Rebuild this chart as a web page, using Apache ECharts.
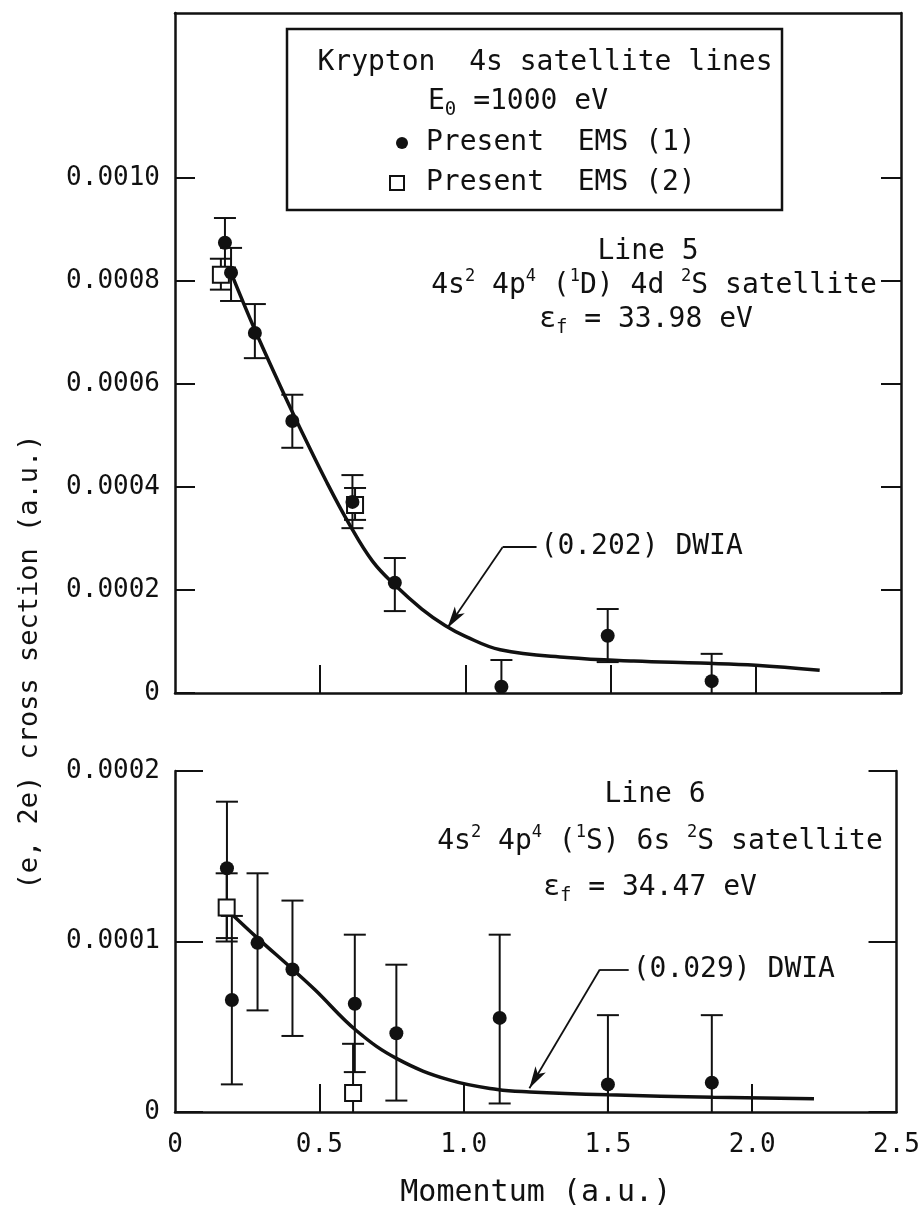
<!DOCTYPE html>
<html>
<head>
<meta charset="utf-8">
<script src="https://cdn.jsdelivr.net/npm/echarts@6/dist/echarts.min.js"></script>
<style>
  html, body { margin: 0; padding: 0; background: #fff; }
  #main { width: 923px; height: 1209px; }
</style>
</head>
<body>
<div id="main"></div>
<script>
// ---- data ----
// Line 5 (upper panel)
var line5Ems1 = [[0.172, 0.000874], [0.193, 0.000816], [0.275, 0.000699], [0.404, 0.000528], [0.611, 0.000371], [0.757, 0.000214], [1.124, 0.000012], [1.490, 0.000111], [1.848, 0.000023]];
var line5Ems1Err = [[0.172, 0.000826, 0.000922], [0.193, 0.000761, 0.000864], [0.275, 0.000650, 0.000755], [0.404, 0.000476, 0.000579], [0.611, 0.000320, 0.000423], [0.757, 0.000159, 0.000262], [1.124, 0, 0.000064], [1.490, 0.000060, 0.000163], [1.848, 0, 0.000076]];
var line5Ems2 = [[0.158, 0.000812], [0.620, 0.000365]];
var line5Ems2Err = [[0.158, 0.000783, 0.000843], [0.620, 0.000336, 0.000398]];
var line5DwiaX = [0.19, 0.275, 0.36, 0.43, 0.52, 0.60, 0.68, 0.76, 0.85, 0.93, 1.00, 1.12, 1.35, 1.58, 1.81, 2.00, 2.22];
var line5DwiaY = [0.00082, 0.000705, 0.000599, 0.000515, 0.000412, 0.000328, 0.000256, 0.000208, 0.000163, 0.000131, 0.00011, 0.000084, 0.000069, 0.000062, 0.000058, 0.000054, 0.000044];

// Line 6 (lower panel)
var line6Ems1 = [[0.180, 0.000143], [0.197, 0.0000657], [0.286, 0.0000992], [0.407, 0.0000836], [0.623, 0.0000635], [0.767, 0.0000462], [1.125, 0.0000552], [1.500, 0.0000162], [1.860, 0.0000172]];
var line6Ems1Err = [[0.180, 0.000102, 0.000182], [0.197, 0.0000162, 0.000115], [0.286, 0.0000596, 0.00014], [0.407, 0.0000446, 0.000124], [0.623, 0.0000234, 0.000104], [0.767, 0.0000067, 0.0000864], [1.125, 0.000005, 0.000104], [1.500, 0, 0.0000568], [1.860, 0, 0.0000568]];
var line6Ems2 = [[0.179, 0.00012], [0.617, 0.0000111]];
var line6Ems2Err = [[0.179, 0.0001, 0.00014], [0.617, 0, 0.00004]];
var line6DwiaX = [0.197, 0.286, 0.407, 0.485, 0.628, 0.772, 0.95, 1.117, 1.23, 1.50, 1.865, 2.214];
var line6DwiaY = [0.000116, 0.000102, 0.0000838, 0.0000717, 0.0000478, 0.000031, 0.0000188, 0.0000132, 0.0000118, 0.0000101, 0.0000086, 0.0000078];

// ticks
var xTicks = [0, 0.5, 1.0, 1.5, 2.0, 2.5];
var xInnerTicks = [0.5, 1.0, 1.5, 2.0];
var y5Ticks = [0, 0.0002, 0.0004, 0.0006, 0.0008, 0.0010];
var y6Ticks = [0, 0.0001, 0.0002];

// DWIA pointer lines (data coords: label end, corner, arrow tip)
var line5Arrow = [[1.245, 0.000283], [1.128, 0.000283], [0.938, 0.000126]];
var line6Arrow = [[1.572, 0.0000836], [1.472, 0.0000836], [1.228, 0.0000139]];

var FONT = 'DejaVu Sans Mono';
var BLACK = '#111';

function zip(xs, ys) {
  return xs.map(function (x, i) { return [x, ys[i]]; });
}

function errorBars(params, api) {
  var x = api.value(0), lo = api.value(1), hi = api.value(2);
  var top = api.coord([x, hi]);
  var bot = api.coord([x, Math.max(lo, 0)]);
  var half = 11;
  var st = { stroke: BLACK, lineWidth: 2 };
  var kids = [
    { type: 'line', shape: { x1: top[0], y1: top[1], x2: bot[0], y2: bot[1] }, style: st },
    { type: 'line', shape: { x1: top[0] - half, y1: top[1], x2: top[0] + half, y2: top[1] }, style: st }
  ];
  if (lo > 0) {
    kids.push({ type: 'line', shape: { x1: bot[0] - half, y1: bot[1], x2: bot[0] + half, y2: bot[1] }, style: st });
  }
  return { type: 'group', children: kids };
}

function arrowLines(pts) {
  return [
    [{ coord: pts[0], symbol: 'none' }, { coord: pts[1], symbol: 'none' }],
    [{ coord: pts[1], symbol: 'none' }, { coord: pts[2], symbol: 'arrow', symbolSize: [9, 22] }]
  ];
}

var axLine = { show: true, onZero: false, lineStyle: { color: BLACK, width: 2.5 } };
var tickStyle = { color: BLACK, width: 2 };
var lblStyle = { color: BLACK, fontSize: 26, fontFamily: FONT };

function yFmt(v) { return v === 0 ? '0' : v.toFixed(4); }
function xFmt(v) { return v === 0 ? '0' : v.toFixed(1); }

var myChart = echarts.init(document.getElementById('main'));
var option = {
  backgroundColor: '#fff',
  animation: false,
  grid: [
    { left: 175, top: 13, width: 726, height: 680 },
    { left: 175, top: 771, width: 726, height: 359 }
  ],
  xAxis: [
    { gridIndex: 0, type: 'value', min: 0, max: 2.5, interval: 0.5, position: 'bottom',
      axisLine: axLine, splitLine: { show: false }, axisLabel: { show: false },
      axisTick: { inside: true, length: 28, lineStyle: tickStyle, customValues: xInnerTicks } },
    { gridIndex: 0, type: 'value', min: 0, max: 2.5, position: 'top',
      axisLine: axLine, splitLine: { show: false }, axisLabel: { show: false }, axisTick: { show: false } },
    { gridIndex: 1, type: 'value', min: 0, max: 2.5, interval: 0.5, position: 'bottom',
      axisLine: axLine, splitLine: { show: false },
      axisTick: { inside: true, length: 28, lineStyle: tickStyle, customValues: xInnerTicks },
      axisLabel: Object.assign({ margin: 20, formatter: xFmt, customValues: xTicks }, lblStyle),
      name: 'Momentum (a.u.)', nameLocation: 'middle', nameGap: 66,
      nameTextStyle: { color: BLACK, fontSize: 30, fontFamily: FONT } }
  ],
  yAxis: [
    { gridIndex: 0, type: 'value', min: 0, max: 0.00132, interval: 0.0002, position: 'left',
      axisLine: axLine, splitLine: { show: false },
      axisTick: { inside: true, length: 20, lineStyle: tickStyle, customValues: y5Ticks },
      axisLabel: Object.assign({ margin: 15, formatter: yFmt, customValues: y5Ticks }, lblStyle) },
    { gridIndex: 0, type: 'value', min: 0, max: 0.00132, interval: 0.0002, position: 'right',
      axisLine: axLine, splitLine: { show: false }, axisLabel: { show: false },
      axisTick: { inside: true, length: 20, lineStyle: tickStyle, customValues: y5Ticks } },
    { gridIndex: 1, type: 'value', min: 0, max: 0.0002, interval: 0.0001, position: 'left',
      axisLine: axLine, splitLine: { show: false },
      axisTick: { inside: true, length: 28, lineStyle: tickStyle, customValues: y6Ticks },
      axisLabel: Object.assign({ margin: 15, formatter: yFmt, customValues: y6Ticks }, lblStyle) },
    { gridIndex: 1, type: 'value', min: 0, max: 0.0002, interval: 0.0001, position: 'right',
      axisLine: axLine, splitLine: { show: false }, axisLabel: { show: false },
      axisTick: { inside: true, length: 28, lineStyle: tickStyle, customValues: y6Ticks } }
  ],
  series: [
    { name: '(0.202) DWIA', type: 'line', xAxisIndex: 0, yAxisIndex: 0,
      data: zip(line5DwiaX, line5DwiaY), showSymbol: false, smooth: 0.4, z: 3,
      lineStyle: { color: BLACK, width: 3.5 },
      markLine: { silent: true, label: { show: false }, lineStyle: { color: BLACK, width: 1.8, type: 'solid' },
        itemStyle: { color: BLACK }, data: arrowLines(line5Arrow) } },
    { type: 'custom', xAxisIndex: 0, yAxisIndex: 0, renderItem: errorBars, encode: { x: 0, y: [1, 2] }, data: line5Ems1Err, z: 2 },
    { type: 'custom', xAxisIndex: 0, yAxisIndex: 0, renderItem: errorBars, encode: { x: 0, y: [1, 2] }, data: line5Ems2Err, z: 2 },
    { name: 'Present EMS (2)', type: 'scatter', xAxisIndex: 0, yAxisIndex: 0, data: line5Ems2,
      symbol: 'rect', symbolSize: 16, z: 4, itemStyle: { color: '#fff', borderColor: BLACK, borderWidth: 2, opacity: 1 } },
    { name: 'Present EMS (1)', type: 'scatter', xAxisIndex: 0, yAxisIndex: 0, data: line5Ems1,
      symbol: 'circle', symbolSize: 14, z: 5, itemStyle: { color: BLACK, opacity: 1 } },

    { name: '(0.029) DWIA', type: 'line', xAxisIndex: 2, yAxisIndex: 2,
      data: zip(line6DwiaX, line6DwiaY), showSymbol: false, smooth: 0.4, z: 3,
      lineStyle: { color: BLACK, width: 3.5 },
      markLine: { silent: true, label: { show: false }, lineStyle: { color: BLACK, width: 1.8, type: 'solid' },
        itemStyle: { color: BLACK }, data: arrowLines(line6Arrow) } },
    { type: 'custom', xAxisIndex: 2, yAxisIndex: 2, renderItem: errorBars, encode: { x: 0, y: [1, 2] }, data: line6Ems1Err, z: 2 },
    { type: 'custom', xAxisIndex: 2, yAxisIndex: 2, renderItem: errorBars, encode: { x: 0, y: [1, 2] }, data: line6Ems2Err, z: 2 },
    { name: 'Present EMS (2)', type: 'scatter', xAxisIndex: 2, yAxisIndex: 2, data: line6Ems2,
      symbol: 'rect', symbolSize: 16, z: 4, itemStyle: { color: '#fff', borderColor: BLACK, borderWidth: 2, opacity: 1 } },
    { name: 'Present EMS (1)', type: 'scatter', xAxisIndex: 2, yAxisIndex: 2, data: line6Ems1,
      symbol: 'circle', symbolSize: 14, z: 5, itemStyle: { color: BLACK, opacity: 1 } }
  ]
};
myChart.setOption(option);

// text annotations and the boxed key
var rich = {
  n: { fontSize: 28, fontFamily: FONT, color: BLACK, lineHeight: 36 },
  sup: { fontSize: 17, fontFamily: FONT, color: BLACK, lineHeight: 17, verticalAlign: 'top' },
  sub: { fontSize: 19, fontFamily: FONT, color: BLACK, lineHeight: 17, verticalAlign: 'bottom' }
};
function txt(x, y, text, align, extra, size) {
  var style = { text: text, x: x, y: y, align: align || 'center', verticalAlign: 'middle',
    fontSize: size || 28, fontFamily: FONT, fill: BLACK, rich: rich };
  return Object.assign({ type: 'text', style: style, z: 10 }, extra || {});
}
var p5 = myChart.convertToPixel({ gridIndex: 0 }, line5Arrow[0]);
var p6 = myChart.convertToPixel({ gridIndex: 1 }, line6Arrow[0]);

myChart.setOption({
  graphic: [
    { type: 'rect', shape: { x: 287, y: 29, width: 495, height: 181 },
      style: { fill: '#fff', stroke: BLACK, lineWidth: 2.5 }, z: 9 },
    txt(545, 63, 'Krypton  4s satellite lines'),
    txt(518, 102, '{n|E}{sub|0}{n| =1000 eV}'),
    { type: 'circle', shape: { cx: 402, cy: 143, r: 6 }, style: { fill: BLACK }, z: 10 },
    txt(426, 143, 'Present  EMS (1)', 'left'),
    { type: 'rect', shape: { x: 390, y: 176, width: 14, height: 14 },
      style: { fill: '#fff', stroke: BLACK, lineWidth: 2 }, z: 10 },
    txt(426, 183, 'Present  EMS (2)', 'left'),

    txt(648, 252, 'Line 5'),
    txt(654, 286, '{n|4s}{sup|2}{n| 4p}{sup|4}{n| (}{sup|1}{n|D) 4d }{sup|2}{n|S satellite}'),
    txt(646, 320, '{n|ε}{sub|f}{n| = 33.98 eV}'),

    txt(655, 795, 'Line 6'),
    txt(660, 842, '{n|4s}{sup|2}{n| 4p}{sup|4}{n| (}{sup|1}{n|S) 6s }{sup|2}{n|S satellite}'),
    txt(650, 888, '{n|ε}{sub|f}{n| = 34.47 eV}'),

    txt(p5[0] + 4, p5[1], '(0.202) DWIA', 'left'),
    txt(p6[0] + 4, p6[1], '(0.029) DWIA', 'left'),

    txt(0, 0, '(e, 2e) cross section (a.u.)', 'center', { x: 30, y: 662, rotation: Math.PI / 2 }, 27)
  ]
});
</script>
</body>
</html>
